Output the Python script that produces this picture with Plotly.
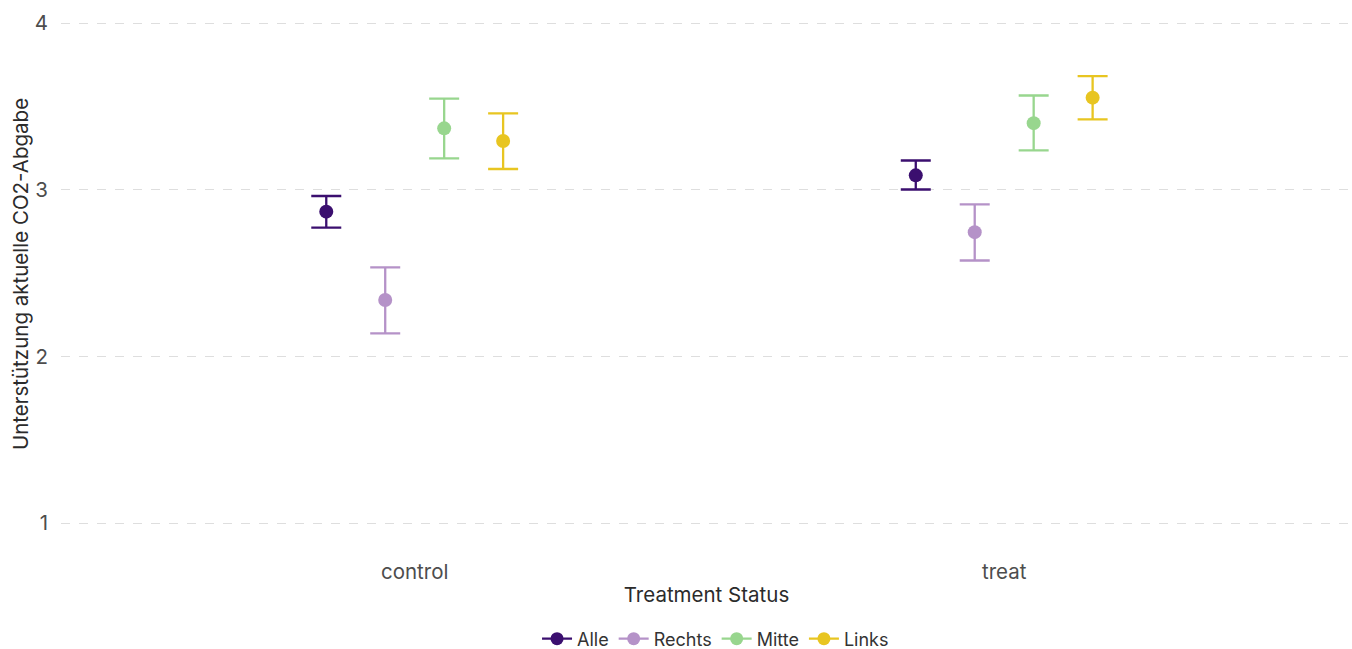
import plotly.graph_objects as go

# Treatment groups and political subgroups
groups = ["control", "treat"]
group_pos = [1, 2]
series = ["Alle", "Rechts", "Mitte", "Links"]
colors = ["#3B0F6F", "#B592C8", "#98D68E", "#E8C521"]
dodge = [-0.15, -0.05, 0.05, 0.15]

# Mean support and confidence bounds, per series: [control, treat]
means = {
    "Alle":   [2.868, 3.086],
    "Rechts": [2.338, 2.745],
    "Mitte":  [3.368, 3.399],
    "Links":  [3.292, 3.552],
}
lower = {
    "Alle":   [2.772, 3.001],
    "Rechts": [2.138, 2.575],
    "Mitte":  [3.188, 3.236],
    "Links":  [3.124, 3.422],
}
upper = {
    "Alle":   [2.962, 3.175],
    "Rechts": [2.534, 2.912],
    "Mitte":  [3.546, 3.565],
    "Links":  [3.458, 3.681],
}

y_ticks = [1, 2, 3, 4]
font_family = "Inter, Open Sans, sans-serif"

fig = go.Figure()

for name, col, off in zip(series, colors, dodge):
    xs = [p + off for p in group_pos]
    m = means[name]
    lo = lower[name]
    hi = upper[name]
    fig.add_trace(go.Scatter(
        x=xs, y=m, mode="markers", name=name, legendgroup=name,
        showlegend=False,
        marker=dict(color=col, size=14),
        error_y=dict(
            type="data", symmetric=False,
            array=[h - v for h, v in zip(hi, m)],
            arrayminus=[v - l for v, l in zip(m, lo)],
            color=col, thickness=2.3, width=15,
        ),
        hoverinfo="skip",
    ))
    # legend key: line through a point
    fig.add_trace(go.Scatter(
        x=[None], y=[None], mode="lines+markers", name=name,
        legendgroup=name,
        line=dict(color=col, width=2.3),
        marker=dict(color=col, size=13),
    ))

fig.update_layout(
    width=1352, height=649,
    paper_bgcolor="white", plot_bgcolor="white",
    margin=dict(l=61, r=0, t=0, b=101, autoexpand=False),
    font=dict(family=font_family, size=20, color="#4D4D4D"),
    showlegend=True,
    legend=dict(
        orientation="h", x=0.507, xanchor="center",
        yref="container", y=(649 - 639) / 649, yanchor="middle",
        font=dict(size=18, color="#333333"),
        itemwidth=30, tracegroupgap=0,
    ),
    xaxis=dict(
        range=[0.4, 2.59], tickvals=group_pos, ticktext=groups,
        showgrid=False, zeroline=False, showline=False, ticks="",
        ticklabelstandoff=9,
        tickfont=dict(size=20.5, color="#4D4D4D"),
        title=dict(text="Treatment Status", standoff=5,
                   font=dict(size=20.5, color="#2B2B2B")),
    ),
    yaxis=dict(
        range=[0.85, 4.138], tickvals=y_ticks,
        showgrid=True, gridcolor="#DEDEDE", griddash="dash", gridwidth=1.2,
        zeroline=False, showline=False, ticks="",
        ticklabelstandoff=12,
        tickfont=dict(size=20.5, color="#4D4D4D"),
        title=dict(text="Unterstützung aktuelle CO2-Abgabe", standoff=0,
                   font=dict(size=20.5, color="#2B2B2B")),
    ),
)

fig.write_html("out.html")
